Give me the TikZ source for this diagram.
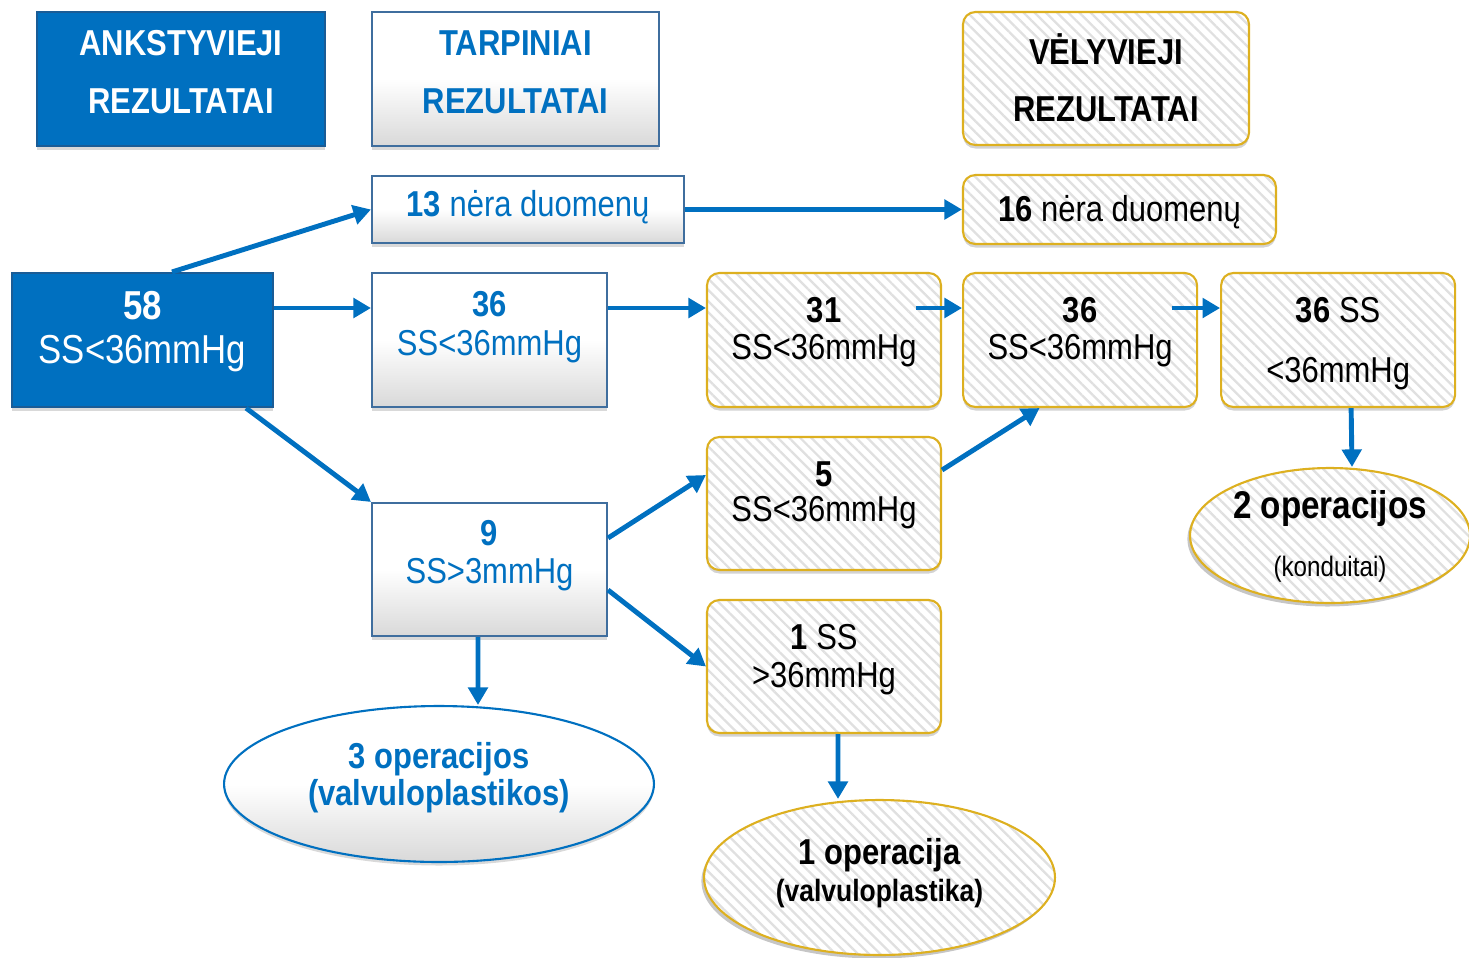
\documentclass[tikz,border=0pt]{standalone}
\usepackage{fontspec}
\setmainfont{Liberation Sans}[FakeStretch=0.86]
\usetikzlibrary{positioning,arrows.meta,shapes.geometric,shadows,patterns.meta}
\definecolor{blueFill}{HTML}{0070C0}
\definecolor{blueEdge}{HTML}{1A5C96}
\definecolor{greyEdge}{HTML}{3F6E9E}
\definecolor{goldEdge}{HTML}{DDB020}
% text set inside a node, raised by #1 from the node centre
\newcommand{\celltext}[2]{\makebox[0pt]{\raisebox{#1}[0pt][0pt]{\begin{tabular}[t]{@{}c@{}}#2\end{tabular}}}}
\tikzset{
>={Triangle[length=10pt,width=11pt]},
  earlybox/.style={
    rectangle,
    fill=blueFill,
    draw=blueEdge, line width=1.2pt,
    text=white,
    inner sep=0pt,
    drop shadow={opacity=0.3,shadow xshift=0pt,shadow yshift=-2pt}},
  midbox/.style={
    rectangle,
    top color=white, bottom color=gray!30, middle color=white,
    draw=greyEdge, line width=1.2pt,
    text=blueFill,
    inner sep=0pt,
    drop shadow={opacity=0.3,shadow xshift=0pt,shadow yshift=-2pt}},
  latebox/.style={
    rectangle,
    rounded corners=7pt,
    drop shadow={opacity=0.35,shadow xshift=0pt,shadow yshift=-2pt},
    preaction={fill=white},
    pattern={Lines[angle=-45,distance=4.5pt,line width=1.3pt]},
    pattern color=gray!24,
    draw=goldEdge, line width=1.2pt,
    text=black,
    inner sep=0pt},
  midoval/.style={
    ellipse,
    top color=white, bottom color=gray!30, middle color=white,
    draw=blueFill, line width=1.2pt,
    text=blueFill,
    inner sep=0pt,
    drop shadow={opacity=0.3,shadow xshift=0pt,shadow yshift=-2pt}},
  lateoval/.style={
    ellipse,
    drop shadow={opacity=0.45,shadow xshift=-1.5pt,shadow yshift=-2pt},
    preaction={fill=white},
    pattern={Lines[angle=-45,distance=4.5pt,line width=1.3pt]},
    pattern color=gray!24,
    draw=goldEdge, line width=1.2pt,
    text=black,
    inner sep=0pt},
  link/.style={draw=blueFill, line width=2.8pt, ->},
}

\begin{document}
\begin{tikzpicture}[x=0.02cm,y=-0.02cm]
  \useasboundingbox (0,0) rectangle (1469,957);
  % column headers
  \node[earlybox, minimum width=5.76cm, minimum height=2.68cm,
    font=\fontsize{20.5}{33.5}\selectfont\bfseries] (early) at (181,79)
    {\celltext{13.6pt}{ANKSTYVIEJI\\REZULTATAI}};
  \node[midbox, minimum width=5.74cm, minimum height=2.68cm,
    font=\fontsize{20.5}{33.5}\selectfont\bfseries] (middle) at (515.5,79)
    {\celltext{13.6pt}{TARPINIAI\\REZULTATAI}};
  \node[latebox, minimum width=5.72cm, minimum height=2.66cm,
    font=\fontsize{20.5}{32.3}\selectfont\bfseries] (late) at (1106,78.5)
    {\celltext{8pt}{VĖLYVIEJI\\REZULTATAI}};
  % early results
  \node[earlybox, minimum width=5.22cm, minimum height=2.68cm,
    font=\fontsize{23}{25.2}\selectfont] (n58) at (142.5,340)
    {\celltext{11.6pt}{\bfseries 58\\SS<36mmHg}};
  % intermediate results
  \node[midbox, minimum width=6.24cm, minimum height=1.34cm,
    font=\fontsize{20.5}{22}\selectfont] (n13) at (528,209.5)
    {\celltext{-4.2pt}{{\bfseries 13} nėra duomenų}};
  \node[midbox, minimum width=4.7cm, minimum height=2.68cm,
    font=\fontsize{20.5}{22}\selectfont] (n36) at (489.5,340)
    {\celltext{13.4pt}{\bfseries 36\\SS<36mmHg}};
  \node[midbox, minimum width=4.7cm, minimum height=2.66cm,
    font=\fontsize{20.5}{21.3}\selectfont] (n9) at (489.5,569.5)
    {\celltext{13.6pt}{\bfseries 9\\SS>3mmHg}};
  \node[midoval, minimum width=8.6cm, minimum height=3.12cm,
    font=\fontsize{20.5}{21.5}\selectfont\bfseries] (op3) at (439,784)
    {\celltext{9.1pt}{3 operacijos\\(valvuloplastikos)}};
  % late results
  \node[latebox, minimum width=6.26cm, minimum height=1.38cm,
    font=\fontsize{20.5}{22}\selectfont] (n16) at (1119.5,209.5)
    {\celltext{-6.8pt}{{\bfseries 16} nėra duomenų}};
  \node[latebox, minimum width=4.68cm, minimum height=2.68cm,
    font=\fontsize{20.5}{21.3}\selectfont] (n31) at (824,340)
    {\celltext{10.2pt}{\bfseries 31\\SS<36mmHg}};
  \node[latebox, minimum width=4.68cm, minimum height=2.68cm,
    font=\fontsize{20.5}{21.3}\selectfont, right=0.40cm of n31] (n36b)
    {\celltext{10.2pt}{\bfseries 36\\SS<36mmHg}};
  \node[latebox, minimum width=4.68cm, minimum height=2.68cm,
    font=\fontsize{20.5}{34.6}\selectfont, right=0.44cm of n36b] (n36c)
    {\celltext{10.2pt}{{\bfseries 36} SS\\<36mmHg}};
  \node[latebox, minimum width=4.68cm, minimum height=2.66cm,
    font=\fontsize{20.5}{20.4}\selectfont] (n5) at (824,503.5)
    {\celltext{9.95pt}{\bfseries 5\\SS<36mmHg}};
  \node[latebox, minimum width=4.68cm, minimum height=2.66cm,
    font=\fontsize{20.5}{21.5}\selectfont] (n1) at (824,666.5)
    {\celltext{9.4pt}{{\bfseries 1} SS\\>36mmHg}};
  \node[lateoval, minimum width=5.6cm, minimum height=2.7cm,
    font=\fontsize{22}{33}\selectfont] (op2) at (1330,535.5)
    {\celltext{9.7pt}{\bfseries 2 operacijos\\{\fontsize{16}{18}\selectfont (konduitai)}}};
  \node[lateoval, minimum width=7.02cm, minimum height=3.1cm,
    font=\fontsize{20.5}{21}\selectfont\bfseries] (op1) at (879.5,877.5)
    {\celltext{7.4pt}{1 operacija\\{\fontsize{17.5}{19}\selectfont (valvuloplastika)}}};
  % connectors
  \draw[link] ([xshift=0.59cm]n58.north) -- (n13.west);
  \draw[link] ([yshift=0.64cm]n58.east) -- ([yshift=0.64cm]n36.west);
  \draw[link] ([xshift=-0.56cm]n58.south east) -- (n9.north west);
  \draw[link] (n13.east) -- (n16.west);
  \draw[link] ([yshift=0.64cm]n36.east) -- ([yshift=0.64cm]n31.west);
  \draw[link] ([xshift=-0.52cm,yshift=0.64cm]n31.east) -- ([yshift=0.64cm]n36b.west);
  \draw[link] ([xshift=-0.52cm,yshift=0.64cm]n36b.east) -- ([yshift=0.64cm]n36c.west);
  \draw[link] ([xshift=0.26cm]n36c.south) -- ([xshift=0.44cm]op2.north);
  \draw[link] ([yshift=0.67cm]n5.east) -- ([xshift=-0.81cm]n36b.south);
  \draw[link] ([yshift=0.63cm]n9.east) -- ([yshift=0.57cm]n5.west);
  \draw[link] ([yshift=-0.41cm]n9.east) -- (n1.west);
  \draw[link] ([xshift=-0.23cm]n9.south) -- ([xshift=0.78cm]op3.north);
  \draw[link] ([xshift=0.28cm]n1.south) -- ([xshift=-0.83cm]op1.north);
\end{tikzpicture}
\end{document}
